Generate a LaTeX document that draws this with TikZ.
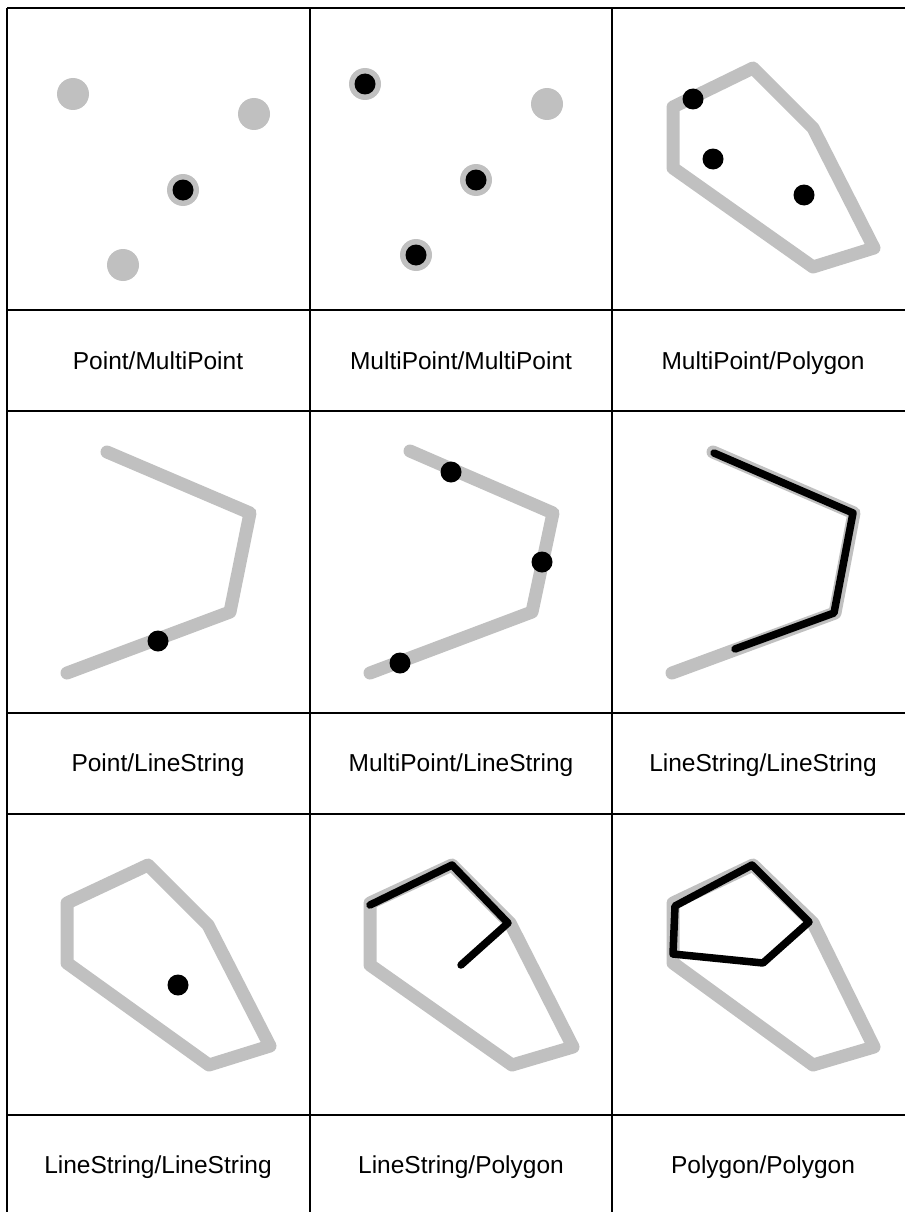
\documentclass[tikz,border=0pt]{standalone}
\usepackage{fontspec}
\setmainfont{Liberation Sans}
\definecolor{geomgray}{RGB}{192,192,192}

\begin{document}
\begin{tikzpicture}[x=1pt, y=-1pt,
  geom/.style={draw=geomgray, line width=13pt, line cap=round, line join=round},
  hit/.style={draw=black, line width=7.5pt, line cap=round, line join=round},
  rule/.style={line width=1.3pt},
  caption/.style={anchor=base, font=\fontsize{24.5}{29}\selectfont}]

  \useasboundingbox (0,0) rectangle (905,1212);

  % table lines
  \foreach \x in {7,310,612}
    \draw[rule] (\x,8) -- (\x,1212);
  \foreach \y in {8,310,411,713,814,1115}
    \draw[rule] (7,\y) -- (905,\y);

  % captions (at their baselines)
  \foreach \name/\x/\y/\txt in {
    capA/158/369/{Point/MultiPoint},
    capB/461/369/{MultiPoint/MultiPoint},
    capC/763/369/{MultiPoint/Polygon},
    capD/158/771/{Point/LineString},
    capE/461/771/{MultiPoint/LineString},
    capF/763/771/{LineString/LineString},
    capG/158/1173/{LineString/LineString},
    capH/461/1173/{LineString/Polygon},
    capI/763/1173/{Polygon/Polygon}
  } {
    \node[caption] (\name) at (\x,\y) {\txt};
  }

  % Point/MultiPoint
  \foreach \p in {(73,94),(254,114),(183,190),(123,265)}
    \fill[geomgray] \p circle (16pt);
  \fill (183,190) circle (10.5pt);

  % MultiPoint/MultiPoint
  \foreach \p in {(365,84),(547,104),(476,180),(416,255)}
    \fill[geomgray] \p circle (16pt);
  \foreach \p in {(365,84),(476,180),(416,255)}
    \fill \p circle (10.5pt);

  % MultiPoint/Polygon
  \draw[geom] (673,107) -- (753,68) -- (813,128) -- (874,248) -- (813,267) -- (673,168) -- cycle;
  \foreach \p in {(693,99),(713,159),(804,195)}
    \fill \p circle (10.5pt);

  % Point/LineString
  \draw[geom] (107,452) -- (250,513) -- (230,612) -- (67,673);
  \fill (158,641) circle (10.5pt);

  % MultiPoint/LineString
  \draw[geom] (410,451) -- (553,513) -- (532,612) -- (370,673);
  \foreach \p in {(451,472),(542,562),(400,663)}
    \fill \p circle (10.5pt);

  % LineString/LineString
  \draw[geom] (713,452) -- (854,513) -- (835,613) -- (672,673);
  \draw[hit] (714,453) -- (853,513) -- (834,613) -- (735,649);

  % LineString/LineString (point inside)
  \draw[geom] (67,903) -- (148,865) -- (208,925) -- (270,1046) -- (209,1065) -- (67,963) -- cycle;
  \fill (178,985) circle (10.5pt);

  % LineString/Polygon
  \draw[geom] (370,903) -- (452,865) -- (510,923) -- (573,1047) -- (512,1065) -- (370,965) -- cycle;
  \draw[hit] (370,905) -- (452,865) -- (508,923) -- (461,965);

  % Polygon/Polygon
  \draw[geom] (673,903) -- (753,865) -- (813,923) -- (874,1047) -- (813,1065) -- (673,963) -- cycle;
  \draw[hit] (675,906) -- (752,865) -- (809,922) -- (763,963) -- (673,954) -- cycle;

\end{tikzpicture}
\end{document}
